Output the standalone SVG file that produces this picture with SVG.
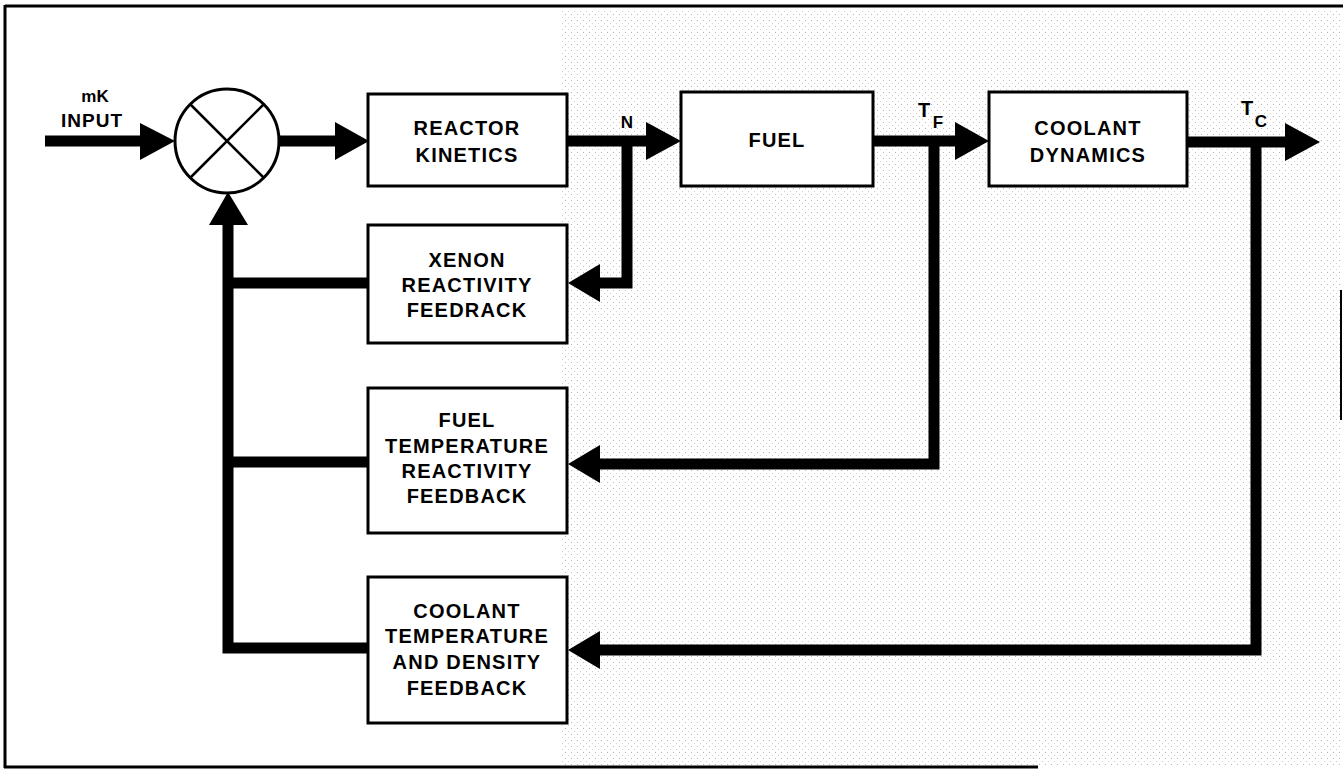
<svg xmlns="http://www.w3.org/2000/svg" width="1343" height="770" viewBox="0 0 1343 770">
<style>
.box{fill:#fff;stroke:#000;stroke-width:3}
.lbl{font-family:"Liberation Sans",Arial,sans-serif;font-weight:bold;font-size:20px;letter-spacing:1.2px;fill:#000;text-anchor:middle}
.sm{font-family:"Liberation Sans",Arial,sans-serif;font-weight:bold;fill:#000}
.wire{fill:none;stroke:#000;stroke-width:11;stroke-linejoin:miter;stroke-linecap:butt}
.head{fill:#000}
.frame{fill:none;stroke:#000;stroke-width:3}
</style>
<defs>
<pattern id="dots" width="6" height="6" patternUnits="userSpaceOnUse">
<rect x="1" y="2" width="1" height="1" fill="#999"/>
<rect x="4" y="5" width="1" height="1" fill="#bbb"/>
</pattern>
</defs>
<rect width="1343" height="770" fill="#fff"/>
<rect x="560" y="10" width="780" height="755" fill="url(#dots)" opacity="0.7"/>
<g id="frame">
<line class="frame" x1="5" y1="6" x2="1343" y2="6"/>
<line class="frame" x1="5" y1="5" x2="5" y2="768"/>
<line class="frame" x1="4" y1="767" x2="1038" y2="767"/>
<line x1="1341" y1="290" x2="1341" y2="420" stroke="#000" stroke-width="2"/>
</g>
<g id="connectors">
<path class="wire" d="M45 141 H142"/>
<polygon class="head" points="140,123 175,141 140,160"/>
<path class="wire" d="M279 141 H337"/>
<polygon class="head" points="335,122 369,141 335,160"/>
<path class="wire" d="M567 141 H648"/>
<polygon class="head" points="646,122 681,141 646,160"/>
<path class="wire" d="M627 141 V283 H598"/>
<polygon class="head" points="600,264 568,283 600,302"/>
<path class="wire" d="M873 141 H957"/>
<polygon class="head" points="955,122 989,141 955,160"/>
<path class="wire" d="M934 141 V464 H598"/>
<polygon class="head" points="600,445 568,464 600,483"/>
<path class="wire" d="M1187 142 H1287"/>
<polygon class="head" points="1285,123 1320,142 1285,161"/>
<path class="wire" d="M1256 142 V650 H598"/>
<polygon class="head" points="600,631 568,650 600,669"/>
<path class="wire" d="M368 283 H228"/>
<path class="wire" d="M368 462 H228"/>
<path class="wire" d="M368 648 H228 V223"/>
<polygon class="head" points="209,225 228,192 248,225"/>
</g>
<g id="sum">
<circle cx="227" cy="141" r="52" fill="#fff" stroke="#000" stroke-width="3"/>
<line x1="190" y1="104" x2="264" y2="178" stroke="#000" stroke-width="2.5"/>
<line x1="264" y1="104" x2="190" y2="178" stroke="#000" stroke-width="2.5"/>
</g>
<g id="input-label">
<text class="sm" x="95" y="102" font-size="17" text-anchor="middle">mK</text>
<text class="sm" x="92" y="127" font-size="19" letter-spacing="1" text-anchor="middle">INPUT</text>
</g>
<g id="reactor-kinetics">
<rect class="box" x="368" y="94" width="199" height="92"/>
<text class="lbl" x="467" y="135">REACTOR</text>
<text class="lbl" x="467" y="162">KINETICS</text>
</g>
<g id="fuel">
<rect class="box" x="681" y="92" width="192" height="94"/>
<text class="lbl" x="777" y="147">FUEL</text>
</g>
<g id="coolant-dynamics">
<rect class="box" x="989" y="92" width="198" height="94"/>
<text class="lbl" x="1088" y="135">COOLANT</text>
<text class="lbl" x="1088" y="162">DYNAMICS</text>
</g>
<g id="xenon">
<rect class="box" x="368" y="225" width="199" height="118"/>
<text class="lbl" x="467" y="267">XENON</text>
<text class="lbl" x="467" y="292">REACTIVITY</text>
<text class="lbl" x="467" y="317">FEEDRACK</text>
</g>
<g id="fuel-temp">
<rect class="box" x="368" y="388" width="199" height="145"/>
<text class="lbl" x="467" y="427">FUEL</text>
<text class="lbl" x="467" y="453">TEMPERATURE</text>
<text class="lbl" x="467" y="478">REACTIVITY</text>
<text class="lbl" x="467" y="503">FEEDBACK</text>
</g>
<g id="coolant-temp">
<rect class="box" x="368" y="577" width="199" height="146"/>
<text class="lbl" x="467" y="618">COOLANT</text>
<text class="lbl" x="467" y="643">TEMPERATURE</text>
<text class="lbl" x="467" y="669">AND DENSITY</text>
<text class="lbl" x="467" y="695">FEEDBACK</text>
</g>
<g id="signal-labels">
<text class="sm" x="627" y="128" font-size="17" text-anchor="middle">N</text>
<text class="sm" x="924" y="117" font-size="20" text-anchor="middle">T</text>
<text class="sm" x="938" y="128" font-size="17" text-anchor="middle">F</text>
<text class="sm" x="1247" y="115" font-size="20" text-anchor="middle">T</text>
<text class="sm" x="1261" y="127" font-size="17" text-anchor="middle">C</text>
</g>
</svg>
